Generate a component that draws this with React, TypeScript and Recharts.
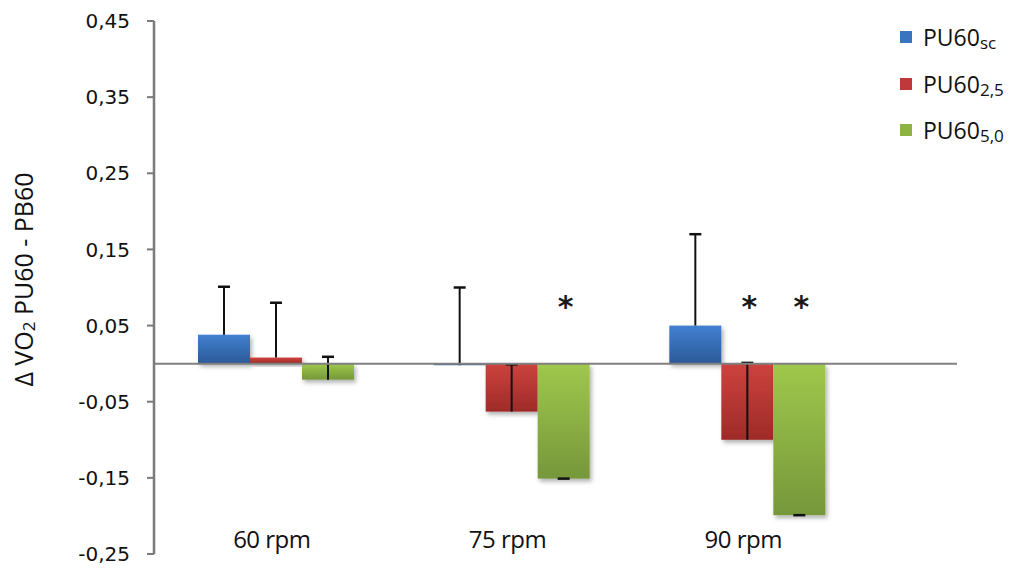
import React from "react";
import { BarChart, Bar, XAxis, YAxis, ReferenceLine, Legend } from "recharts";

// categories + values
const categories = ["60 rpm", "75 rpm", "90 rpm"];
const scValues = [0.038, -0.002, 0.05];
const scErrors = [0.063, 0.102, 0.12];
const p25Values = [0.008, -0.063, -0.1];
const p25Errors = [0.072, 0.062, 0.101];
const p50Values = [-0.021, -0.151, -0.199];
const p50Errors = [0.03, 0, 0];
const scMarks = ["", "", ""];
const p25Marks = ["", "", "*"];
const p50Marks = ["", "*", "*"];
const yTicks = [-0.25, -0.15, -0.05, 0.05, 0.15, 0.25, 0.35, 0.45];
const yDomain: [number, number] = [-0.25, 0.45];
const markLevel = 0.08;

const series = [
  { key: "sc", sub: "sc", color: "#3a73be", top: "#4180d0", bottom: "#2b5a98" },
  { key: "p25", sub: "2,5", color: "#c0393a", top: "#cd423e", bottom: "#9e2b28" },
  { key: "p50", sub: "5,0", color: "#8db443", top: "#9fc84c", bottom: "#76973a" },
];

const data = categories.map((name, i) => ({
  name,
  sc: scValues[i],
  scErr: scErrors[i],
  scMark: scMarks[i],
  p25: p25Values[i],
  p25Err: p25Errors[i],
  p25Mark: p25Marks[i],
  p50: p50Values[i],
  p50Err: p50Errors[i],
  p50Mark: p50Marks[i],
}));

const fmt = (v: number) => v.toFixed(2).replace(".", ",");

// bar with a one-sided (plus) error whisker and optional significance star
const makeShape = (key: string) => (props: any) => {
  const { x, y, width, height, payload, background } = props;
  const v: number = payload[key];
  const err: number = payload[key + "Err"];
  const mark: string = payload[key + "Mark"];
  const top = Math.min(y, y + height);
  const h = Math.abs(height);
  const ppu =
    background && background.height
      ? background.height / (yDomain[1] - yDomain[0])
      : h / Math.max(Math.abs(v), 1e-6);
  const zero = background ? background.y + yDomain[1] * ppu : v >= 0 ? top + h : top;
  const end = v >= 0 ? top : top + h;
  const errEnd = end - err * ppu;
  const cx = x + width / 2;
  return (
    <g>
      <rect x={x} y={top} width={width} height={Math.max(h, 1)} fill={`url(#grad-${key})`} filter="url(#barShadow)" />
      <line x1={cx} y1={end} x2={cx} y2={errEnd} stroke="#111" strokeWidth={2} />
      <line x1={cx - 6} y1={errEnd} x2={cx + 6} y2={errEnd} stroke="#111" strokeWidth={2.5} />
      {mark ? (
        <text
          x={cx + 2}
          y={zero - markLevel * ppu + 14}
          textAnchor="middle"
          fontFamily="DejaVu Sans"
          fontWeight="bold"
          fontSize={30}
          fill="#1a1a1a"
        >
          {mark}
        </text>
      ) : null}
    </g>
  );
};

const CategoryTick = ({ x, y, payload }: any) => (
  <text x={x - 4} y={y - 6} textAnchor="middle" fontFamily="Open Sans" fontSize={24} fill="#111" letterSpacing={-0.5}>
    {payload.value}
  </text>
);

const renderLegend = () => (
  <div style={{ fontFamily: "Open Sans", color: "#111" }}>
    {series.map((s) => (
      <div key={s.key} style={{ height: 46.5, display: "flex", alignItems: "center" }}>
        <span style={{ width: 12, height: 12, background: s.color, display: "inline-block", marginRight: 11 }} />
        <span style={{ fontSize: 23 }}>
          PU60<span style={{ fontSize: 17, position: "relative", top: 3 }}>{s.sub}</span>
        </span>
      </div>
    ))}
  </div>
);

const YLabel = ({ viewBox }: any) => {
  const cx = viewBox.x + 23;
  const cy = viewBox.y + viewBox.height / 2 - 8;
  return (
    <text
      x={cx}
      y={cy}
      transform={`rotate(-90 ${cx} ${cy})`}
      textAnchor="middle"
      dominantBaseline="central"
      fontFamily="Open Sans"
      fontSize={25}
      fill="#111"
    >
      Δ VO
      <tspan fontSize={17} dy={5}>2</tspan>
      <tspan dy={-5}> PU60 - PB60</tspan>
    </text>
  );
};

export default function App() {
  return (
    <div style={{ position: "absolute", left: 0, top: 0, background: "#fff" }}>
      <BarChart
        width={1027}
        height={570}
        data={data}
        margin={{ top: 21, right: 70, bottom: 0, left: 0 }}
        barSize={52}
        barGap={0}
      >
        <defs>
          {series.map((s) => (
            <linearGradient key={s.key} id={`grad-${s.key}`} x1="0" y1="0" x2="0" y2="1">
              <stop offset="0%" stopColor={s.top} />
              <stop offset="100%" stopColor={s.bottom} />
            </linearGradient>
          ))}
          <filter id="barShadow" x="-20%" y="-20%" width="140%" height="160%">
            <feDropShadow dx={2} dy={3} stdDeviation={2} floodColor="#000" floodOpacity={0.3} />
          </filter>
        </defs>
        <XAxis
          dataKey="name"
          height={16}
          axisLine={false}
          tickLine={false}
          tickSize={0}
          tickMargin={0}
          padding={{ left: 4, right: 92 }}
          tick={(p: any) => <CategoryTick {...p} />}
        />
        <YAxis
          width={154}
          domain={yDomain}
          ticks={yTicks}
          allowDataOverflow
          tickFormatter={fmt}
          axisLine={{ stroke: "#7a7a7a", strokeWidth: 2.5 }}
          tickLine={{ stroke: "#7a7a7a", strokeWidth: 2 }}
          tickSize={7}
          tickMargin={17}
          tick={{ fontFamily: "DejaVu Sans", fontSize: 20, fill: "#111" }}
          label={{ content: <YLabel /> }}
        />
        <Legend
          layout="vertical"
          align="center"
          verticalAlign="middle"
          content={renderLegend}
          wrapperStyle={{ top: 14, left: 900, width: 127 }}
        />
        {series.map((s) => (
          <Bar key={s.key} dataKey={s.key} fill={s.color} isAnimationActive={false} shape={makeShape(s.key)} />
        ))}
        <ReferenceLine y={0} stroke="#808080" strokeWidth={2} />
      </BarChart>
    </div>
  );
}
